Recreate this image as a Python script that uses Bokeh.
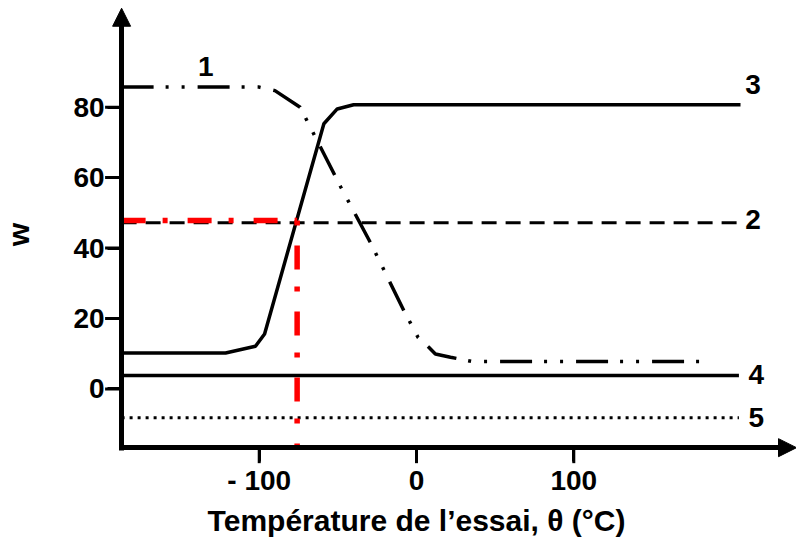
import math
from bokeh.plotting import figure
from bokeh.models import Range1d, FixedTicker, Arrow, NormalHead, Label
from bokeh.core.properties import value
from bokeh.embed import file_html
from bokeh.resources import INLINE

# --- data ---
view_x = (-264.5, 241.6)          # whole canvas
view_y = (-45.9, 110.3)
ax_x0, ax_x1 = -187.5, 241.6      # x axis extent (arrow tip at x1)
ax_y0, ax_y1 = -16.7, 108.1       # y axis extent (arrow tip at y1)

x_ticks = [-100, 0, 100]
x_tick_labels = {-100: "- 100", 0: "0", 100: "100"}
y_ticks = [0, 20, 40, 60, 80]

# curve 1 (dash-dot-dot)
c1_x = [-187.5, -100, -90, -74, -48, -29, -8, 1, 7.8, 12, 21.6, 35, 180]
c1_y = [85.7, 85.7, 84.7, 80.0, 57.2, 41.3, 22.2, 14.6, 11.8, 9.9, 9.0, 7.8, 7.8]
# curve 2 (dashed)
c2_x = [-187.5, 207]
c2_y = [47.2, 47.2]
# curve 3 (solid)
c3_x = [-187.5, -121.4, -102.4, -96.6, -58.9, -50.4, -40, 206]
c3_y = [10.2, 10.2, 12.1, 15.6, 75.3, 79.5, 80.7, 80.7]
# curve 4 (solid)
c4_x = [-187.5, 205]
c4_y = [3.8, 3.8]
# curve 5 (dotted)
c5_x = [-187.5, 205]
c5_y = [-8.2, -8.2]
# red marker (dash-dot)
red_h_x = [-187.5, -75.9]
red_h_y = [47.8, 47.8]
red_v_x = [-75.9, -75.9]
red_v_y = [47.8, -16.7]

lab_x = [-134, 214, 214, 216, 216]
lab_y = [91.5, 86.4, 48.0, 4.0, -8.2]
lab_t = ["1", "3", "2", "4", "5"]

x_title = "Température de l’essai, θ (°C)"
x_title_pos = (0, -37.3)

FONT = "Liberation Sans"
TICK_LEN = 14

p = figure(width=796, height=550, x_range=Range1d(*view_x), y_range=Range1d(*view_y),
           output_backend="svg", toolbar_location=None,
           min_border_left=0, min_border_right=0, min_border_top=0, min_border_bottom=0)
p.title.visible = False
p.outline_line_color = None
p.grid.visible = False
p.background_fill_color = "white"
p.border_fill_color = "white"

for ax in (p.xaxis, p.yaxis):
    ax.axis_line_width = 5
    ax.axis_line_color = "black"
    ax.major_tick_line_width = 3
    ax.major_tick_line_color = "black"
    ax.major_tick_out = TICK_LEN
    ax.major_tick_in = 0
    ax.minor_tick_line_color = None
    ax.major_label_text_font = FONT
    ax.major_label_text_font_style = "bold"
    ax.major_label_text_font_size = "28px"
    ax.major_label_text_color = "black"

p.xaxis.fixed_location = ax_y0
p.xaxis.bounds = (ax_x0 - 1.6, ax_x1 - 6)
p.xaxis.ticker = FixedTicker(ticks=x_ticks)
p.xaxis.major_label_overrides = x_tick_labels
p.xaxis.major_label_standoff = 3

p.yaxis.fixed_location = ax_x0
p.yaxis.bounds = (ax_y0 - 0.7, ax_y1 - 3)
p.yaxis.ticker = FixedTicker(ticks=y_ticks)
p.yaxis.major_label_standoff = 3
p.yaxis.axis_label = "w"
p.yaxis.axis_label_text_font = FONT
p.yaxis.axis_label_text_font_style = "bold"
p.yaxis.axis_label_text_font_size = "30px"
p.yaxis.axis_label_text_color = "black"
p.yaxis.axis_label_standoff = 35

# tick marks (drawn from the tick lists, fixed screen length)
p.segment(x0=x_ticks, y0=[ax_y0] * len(x_ticks), x1=x_ticks,
          y1=[ax_y0 - 4.4] * len(x_ticks), line_color="black", line_width=3)
p.segment(x0=[ax_x0] * len(y_ticks), y0=y_ticks, x1=[ax_x0 - 10.5] * len(y_ticks),
          y1=y_ticks, line_color="black", line_width=3)

# curves
p.line(c3_x, c3_y, line_color="black", line_width=3.5)
p.line(c4_x, c4_y, line_color="black", line_width=3.5)
p.line(c5_x, c5_y, line_color="black", line_width=3, line_dash="3 5")
p.line(c2_x, c2_y, line_color="black", line_width=3, line_dash="15 9")
p.line(c1_x, c1_y, line_color="black", line_width=3.5, line_dash="32 12 3 13 3 13")
p.line(red_h_x, red_h_y, line_color="red", line_width=5.5, line_dash="24 17 5 20")
p.line(red_v_x, red_v_y, line_color="red", line_width=5.5, line_dash="24 17 5 20",
       line_dash_offset=41)

p.text(x=lab_x, y=lab_y, text=lab_t, text_font=value(FONT), text_font_style="bold",
       text_font_size="28px", text_align="center", text_baseline="middle",
       text_color="black")

# axis arrows
p.add_layout(Arrow(end=NormalHead(size=18, fill_color="black", line_color="black",
                                  line_width=1),
                   x_start=ax_x0, y_start=ax_y1 - 4, x_end=ax_x0, y_end=ax_y1,
                   line_alpha=0))
p.add_layout(Arrow(end=NormalHead(size=18, fill_color="black", line_color="black",
                                  line_width=1),
                   x_start=ax_x1 - 10, y_start=ax_y0, x_end=ax_x1, y_end=ax_y0,
                   line_alpha=0))

p.add_layout(Label(x=x_title_pos[0], y=x_title_pos[1], text=x_title,
                   text_font=FONT, text_font_style="bold", text_font_size="30px",
                   text_align="center", text_baseline="middle", text_color="black"))

open("out.html", "w").write(file_html(p, INLINE))
